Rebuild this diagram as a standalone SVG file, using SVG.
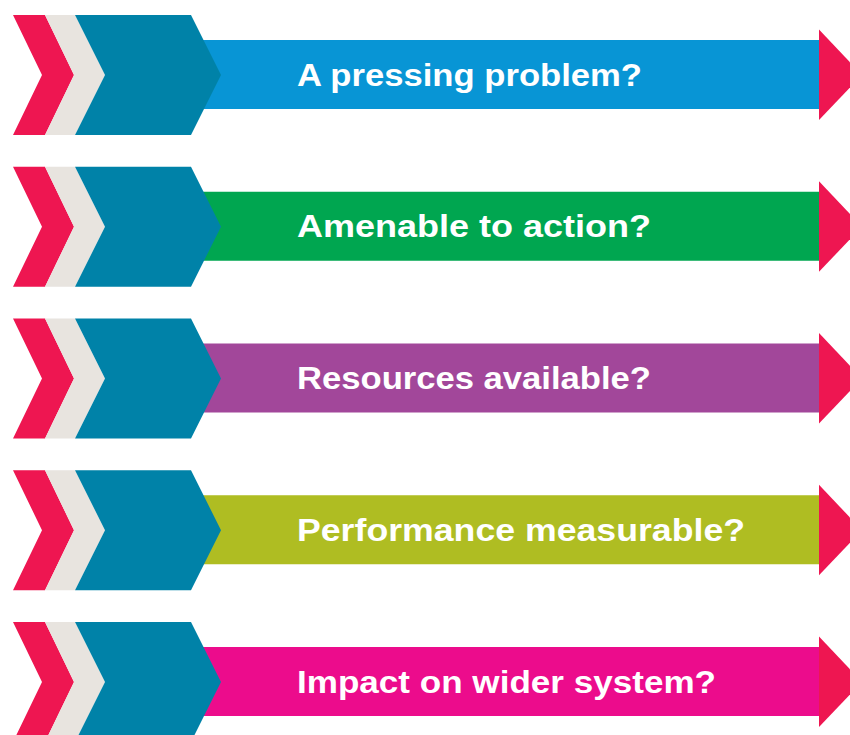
<svg xmlns="http://www.w3.org/2000/svg" xmlns:xlink="http://www.w3.org/1999/xlink" width="850" height="735" viewBox="0 0 850 735">
<style>
.red{fill:#EE1651}
.grey{fill:#E8E4DF}
.teal{fill:#0082A8}
.lbl{font-family:"Liberation Sans",Arial,sans-serif;font-weight:bold;font-size:32px;fill:#FFFFFF}
</style>
<defs>
<g id="chev">
<polygon class="red" points="13,15 45,15 74,75 45,135 13,135 42,75"/>
<polygon class="grey" points="45,15 75,15 105,75 75,135 45,135 74,75"/>
<polygon class="teal" points="75,15 191,15 221,75 191,135 75,135 105,75"/>
</g>
<polygon id="tip" class="red" points="819,29.5 862,75 819,120"/>
</defs>
<g id="row1">
<rect x="200" y="40" width="620" height="69" fill="#0895D5"/>
<use xlink:href="#chev"/>
<use xlink:href="#tip"/>
<text class="lbl" x="297" y="85.7" textLength="345" lengthAdjust="spacingAndGlyphs">A pressing problem?</text>
</g>
<g id="row2" transform="translate(0,151.75)">
<rect x="200" y="40" width="620" height="69" fill="#00A650"/>
<use xlink:href="#chev"/>
<use xlink:href="#tip"/>
<text class="lbl" x="297" y="85.7" textLength="354" lengthAdjust="spacingAndGlyphs">Amenable to action?</text>
</g>
<g id="row3" transform="translate(0,303.5)">
<rect x="200" y="40" width="620" height="69" fill="#A2479A"/>
<use xlink:href="#chev"/>
<use xlink:href="#tip"/>
<text class="lbl" x="297" y="85.7" textLength="354" lengthAdjust="spacingAndGlyphs">Resources available?</text>
</g>
<g id="row4" transform="translate(0,455.25)">
<rect x="200" y="40" width="620" height="69" fill="#AFBD22"/>
<use xlink:href="#chev"/>
<use xlink:href="#tip"/>
<text class="lbl" x="297" y="85.7" textLength="448" lengthAdjust="spacingAndGlyphs">Performance measurable?</text>
</g>
<g id="row5" transform="translate(0,607)">
<rect x="200" y="40" width="620" height="69" fill="#EC0C8C"/>
<use xlink:href="#chev"/>
<use xlink:href="#tip"/>
<text class="lbl" x="297" y="85.7" textLength="419" lengthAdjust="spacingAndGlyphs">Impact on wider system?</text>
</g>
<g id="connectors"/>
</svg>
